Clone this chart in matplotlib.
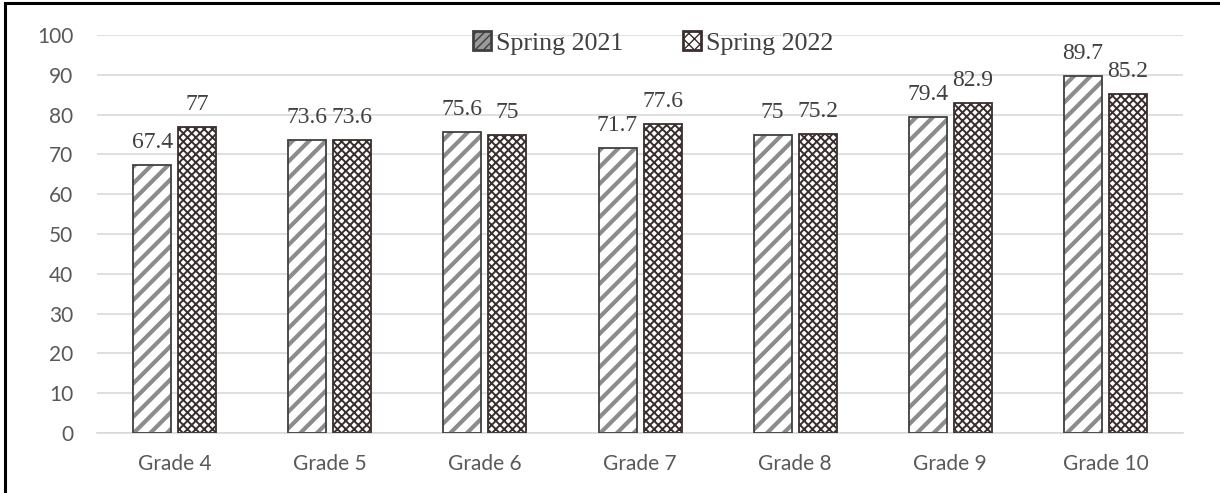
import matplotlib.pyplot as plt
import numpy as np
from matplotlib.patches import Rectangle

# Dados
GRADES = ["Grade 4", "Grade 5", "Grade 6", "Grade 7", "Grade 8", "Grade 9", "Grade 10"]
SPRING_2021 = [67.4, 73.6, 75.6, 71.7, 75, 79.4, 89.7]
SPRING_2022 = [77, 73.6, 75, 77.6, 75.2, 82.9, 85.2]
SERIES = ["Spring 2021", "Spring 2022"]

LARGURA = 0.245
ESPACO = 0.045
COR_TEXTO = '#404040'
COR_PONTOS = '#3a2e2e'

plt.rcParams['hatch.linewidth'] = 3.0

fig = plt.figure(figsize=(12.2, 4.93), dpi=100)
ax = fig.add_axes([0.0795, 0.1217, 0.8902, 0.8073])

x = np.arange(len(GRADES))
pos1 = x - (LARGURA + ESPACO) / 2
pos2 = x + (LARGURA + ESPACO) / 2

# barras listradas
ax.bar(pos1, SPRING_2021, LARGURA, color='white', edgecolor='#8c8c8c', hatch='//', linewidth=0, zorder=2)
ax.bar(pos1, SPRING_2021, LARGURA, fill=False, edgecolor=COR_TEXTO, linewidth=1.3, zorder=3)

# barras pontilhadas
plt.rcParams['hatch.linewidth'] = 1.4
ax.bar(pos2, SPRING_2022, LARGURA, color='white', edgecolor=COR_PONTOS, hatch='xxxx', linewidth=0, zorder=2)
ax.bar(pos2, SPRING_2022, LARGURA, fill=False, edgecolor=COR_PONTOS, linewidth=1.3, zorder=3)

# rótulos de valor
for pos, vals in ((pos1, SPRING_2021), (pos2, SPRING_2022)):
    for p, v in zip(pos, vals):
        ax.annotate(f"{v:g}", (p, v), xytext=(0, 12), textcoords='offset points',
                    ha='center', va='baseline', fontsize=17,
                    family='Liberation Serif', color=COR_TEXTO)

ax.set_xlim(-0.5, len(GRADES) - 0.5)
ax.set_ylim(0, 100)
ax.set_yticks(range(0, 101, 10))
ax.set_xticks(x)
ax.set_xticklabels(GRADES)
ax.tick_params(length=0, labelsize=15, labelcolor='#595959')
ax.tick_params(axis='x', pad=15)
ax.tick_params(axis='y', pad=17)
for lbl in ax.get_xticklabels() + ax.get_yticklabels():
    lbl.set_family('Lato')
ax.grid(axis='y', color='#d9d9d9', linewidth=1.2, zorder=0)
ax.set_axisbelow(True)
for s in ['top', 'right', 'left']:
    ax.spines[s].set_visible(False)
ax.spines['bottom'].set_color('#d9d9d9')
ax.spines['bottom'].set_linewidth(1.2)

# legenda
plt.rcParams['hatch.linewidth'] = 1.0
handles = [Rectangle((0, 0), 1, 1, facecolor='#9a9a9a', edgecolor='#404040', hatch='////', linewidth=2),
           Rectangle((0, 0), 1, 1, facecolor='white', edgecolor=COR_PONTOS, hatch='xxx', linewidth=2)]
leg = ax.legend(handles, SERIES, loc='center', bbox_to_anchor=(0.512, 0.98), ncol=2,
                frameon=False, prop={'family': 'Liberation Serif', 'size': 18.7},
                handlelength=0.7, handleheight=0.7, handletextpad=0.2, columnspacing=2.3,
                borderpad=0)
for t in leg.get_texts():
    t.set_color(COR_TEXTO)

# moldura da figura
fig.patches.append(Rectangle((0.0045, -0.01), 1.0, 1.004, transform=fig.transFigure,
                             fill=False, edgecolor='black', linewidth=2.2))

fig.savefig('out.png', dpi=100)
